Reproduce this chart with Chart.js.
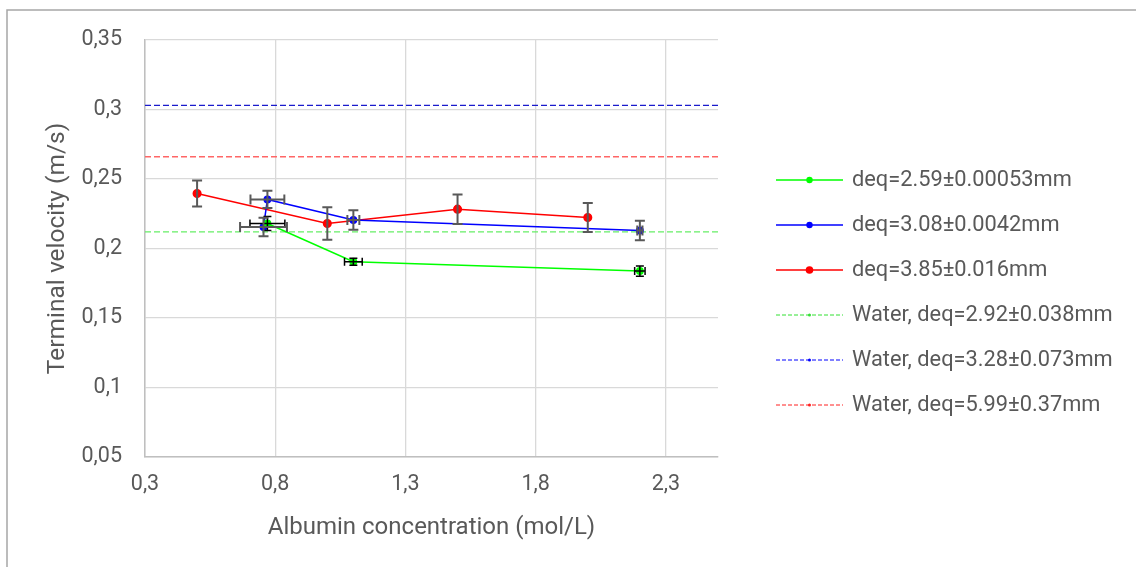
<!DOCTYPE html>
<html>
<head>
<meta charset="utf-8">
<script src="https://cdn.jsdelivr.net/npm/chart.js"></script>
<style>
  body { margin: 0; background: #ffffff; }
</style>
</head>
<body>
<canvas id="velocityChart" width="1136" height="567"></canvas>
<script>
// albumin concentration (mol/L) vs terminal velocity (m/s), with error bars
var greenConc = [0.77, 1.10, 2.20];
var greenVel = [0.218, 0.1905, 0.1838];
var greenConcErr = [0.067, 0.034, 0.02];
var greenVelErr = [0.005, 0.0025, 0.0037];

var blueConc = [0.755, 0.77, 1.10, 2.20];
var blueVel = [0.2155, 0.2353, 0.2205, 0.213];
var blueConcErr = [0.09, 0.065, 0.023, 0.01];
var blueVelErr = [0.0066, 0.0062, 0.007, 0.007];

var redConc = [0.5, 1.0, 1.5, 2.0];
var redVel = [0.2396, 0.218, 0.2283, 0.2223];
var redConcErr = [0, 0, 0, 0];
var redVelErr = [0.0094, 0.0117, 0.0106, 0.0104];

// reference velocities in plain water
var waterVel = [0.212, 0.303, 0.266];

var seriesLabels = ["deq=2.59\u00b10.00053mm", "deq=3.08\u00b10.0042mm", "deq=3.85\u00b10.016mm"];
var waterLabels = ["Water, deq=2.92\u00b10.038mm", "Water, deq=3.28\u00b10.073mm", "Water, deq=5.99\u00b10.37mm"];

var xRange = [0.3, 2.5];
var yRange = [0.05, 0.35];
var xTicks = [0.3, 0.8, 1.3, 1.8, 2.3];
var yTicks = [0.05, 0.1, 0.15, 0.2, 0.25, 0.3, 0.35];

var FONT = "Roboto";
var TEXT = "#595959";

function toPoints(xs, ys, xe, ye) {
  return xs.map(function (x, i) {
    return { x: x, y: ys[i], xErr: xe[i], yErr: ye[i] };
  });
}

function seriesDataset(label, color, pts, errColor, errWidth, radius) {
  return {
    label: label,
    data: pts,
    showLine: true,
    borderColor: color,
    backgroundColor: color,
    borderWidth: 1.5,
    pointRadius: radius,
    pointBackgroundColor: color,
    pointBorderColor: color,
    legendColor: color,
    errorColor: errColor,
    errorWidth: errWidth
  };
}

function waterDataset(label, color, swatch, v) {
  return {
    label: label,
    data: [{ x: xRange[0], y: v }, { x: xRange[1], y: v }],
    showLine: true,
    borderColor: color,
    backgroundColor: color,
    borderWidth: 1.3,
    borderDash: [6, 3],
    pointRadius: 0,
    legendColor: swatch,
    water: true
  };
}

// error bars drawn on top of the series
var errorBars = {
  id: "errorBars",
  afterDatasetsDraw: function (chart) {
    var ctx = chart.ctx;
    var xs = chart.scales.x, ys = chart.scales.y;
    chart.data.datasets.forEach(function (ds) {
      if (!ds.errorColor) return;
      var cap = ds.errorColor === "#000000" ? 4 : 5;
      ctx.save();
      ctx.strokeStyle = ds.errorColor;
      ctx.lineWidth = ds.errorWidth;
      ds.data.forEach(function (p) {
        var px = xs.getPixelForValue(p.x);
        var py = ys.getPixelForValue(p.y);
        ctx.beginPath();
        if (p.yErr) {
          var y1 = ys.getPixelForValue(p.y - p.yErr);
          var y2 = ys.getPixelForValue(p.y + p.yErr);
          ctx.moveTo(px, y1); ctx.lineTo(px, y2);
          ctx.moveTo(px - cap, y1); ctx.lineTo(px + cap, y1);
          ctx.moveTo(px - cap, y2); ctx.lineTo(px + cap, y2);
        }
        if (p.xErr) {
          var x1 = xs.getPixelForValue(p.x - p.xErr);
          var x2 = xs.getPixelForValue(p.x + p.xErr);
          ctx.moveTo(x1, py); ctx.lineTo(x2, py);
          ctx.moveTo(x1, py - cap); ctx.lineTo(x1, py + cap);
          ctx.moveTo(x2, py - cap); ctx.lineTo(x2, py + cap);
        }
        ctx.stroke();
      });
      ctx.restore();
    });
  }
};

// white background and the outer frame
var frame = {
  id: "frame",
  beforeDraw: function (chart) {
    var ctx = chart.ctx;
    ctx.save();
    ctx.fillStyle = "#ffffff";
    ctx.fillRect(0, 0, chart.width, chart.height);
    ctx.strokeStyle = "#a6a6a6";
    ctx.lineWidth = 1.5;
    ctx.beginPath();
    ctx.moveTo(7, chart.height);
    ctx.lineTo(7, 10);
    ctx.lineTo(chart.width, 10);
    ctx.stroke();
    ctx.restore();
  }
};

// legend with line + marker swatches on the right
var sideLegend = {
  id: "sideLegend",
  afterDraw: function (chart) {
    var ctx = chart.ctx;
    var x0 = 776, x1 = 843, top = 180, step = 45;
    ctx.save();
    ctx.font = "21.8px " + FONT;
    ctx.textBaseline = "middle";
    chart.data.datasets.forEach(function (ds, i) {
      var y = top + i * step;
      ctx.strokeStyle = ds.legendColor;
      ctx.lineWidth = ds.water ? 1 : 1.5;
      ctx.setLineDash(ds.water ? [4, 2] : []);
      ctx.beginPath();
      ctx.moveTo(x0, y);
      ctx.lineTo(x1, y);
      ctx.stroke();
      ctx.setLineDash([]);
      ctx.fillStyle = ds.legendColor;
      ctx.beginPath();
      ctx.arc((x0 + x1) / 2, y, ds.water ? 1.5 : (ds.pointRadius || 3), 0, Math.PI * 2);
      ctx.fill();
      ctx.fillStyle = TEXT;
      ctx.fillText(ds.label, 852, y + 1);
    });
    ctx.restore();
  }
};

function commaNum(v, d) {
  return String(+v.toFixed(d)).replace(".", ",");
}

var ctx = document.getElementById("velocityChart").getContext("2d");
var chart = new Chart(ctx, {
  type: "scatter",
  data: {
    datasets: [
      seriesDataset(seriesLabels[0], "#00ff00", toPoints(greenConc, greenVel, greenConcErr, greenVelErr), "#000000", 1.5, 3.2),
      seriesDataset(seriesLabels[1], "#0000ff", toPoints(blueConc, blueVel, blueConcErr, blueVelErr), "#595959", 2, 3.2),
      seriesDataset(seriesLabels[2], "#ff0000", toPoints(redConc, redVel, redConcErr, redVelErr), "#595959", 2, 3.8),
      waterDataset(waterLabels[0], "#66ee66", "#33e033", waterVel[0]),
      waterDataset(waterLabels[1], "#1a1acc", "#0000ff", waterVel[1]),
      waterDataset(waterLabels[2], "#ff6666", "#ff2020", waterVel[2])
    ]
  },
  options: {
    responsive: false,
    animation: false,
    devicePixelRatio: 1,
    layout: { padding: { left: 0, top: 40, right: 418, bottom: 0 } },
    plugins: {
      legend: { display: false },
      tooltip: { enabled: false }
    },
    scales: {
      x: {
        type: "linear",
        min: xRange[0],
        max: xRange[1],
        afterBuildTicks: function (scale) {
          scale.ticks = xTicks.map(function (v) { return { value: v }; });
        },
        afterFit: function (scale) { scale.height = 110; },
        grid: { color: "#d9d9d9", lineWidth: 1.3, drawTicks: false },
        border: { color: "#bfbfbf", width: 1.5 },
        ticks: {
          padding: 15,
          color: TEXT,
          font: { family: FONT, size: 21.5 },
          maxRotation: 0,
          callback: function (v) { return commaNum(v, 1); }
        },
        title: {
          display: true,
          text: "Albumin concentration (mol/L)",
          color: TEXT,
          font: { family: FONT, size: 24 },
          padding: { top: 0, bottom: 25 }
        }
      },
      y: {
        type: "linear",
        min: yRange[0],
        max: yRange[1],
        afterBuildTicks: function (scale) {
          scale.ticks = yTicks.map(function (v) { return { value: v }; });
        },
        afterFit: function (scale) { scale.width = 145; },
        grid: { color: "#d9d9d9", lineWidth: 1.3, drawTicks: false },
        border: { color: "#bfbfbf", width: 1.5 },
        ticks: {
          padding: 23,
          color: TEXT,
          font: { family: FONT, size: 21.5 },
          callback: function (v) { return commaNum(v, 2); }
        },
        title: {
          display: true,
          text: "Terminal velocity (m/s)",
          color: TEXT,
          font: { family: FONT, size: 24.5 },
          padding: { top: 43, bottom: 0 }
        }
      }
    }
  },
  plugins: [frame, errorBars, sideLegend]
});
</script>
</body>
</html>
